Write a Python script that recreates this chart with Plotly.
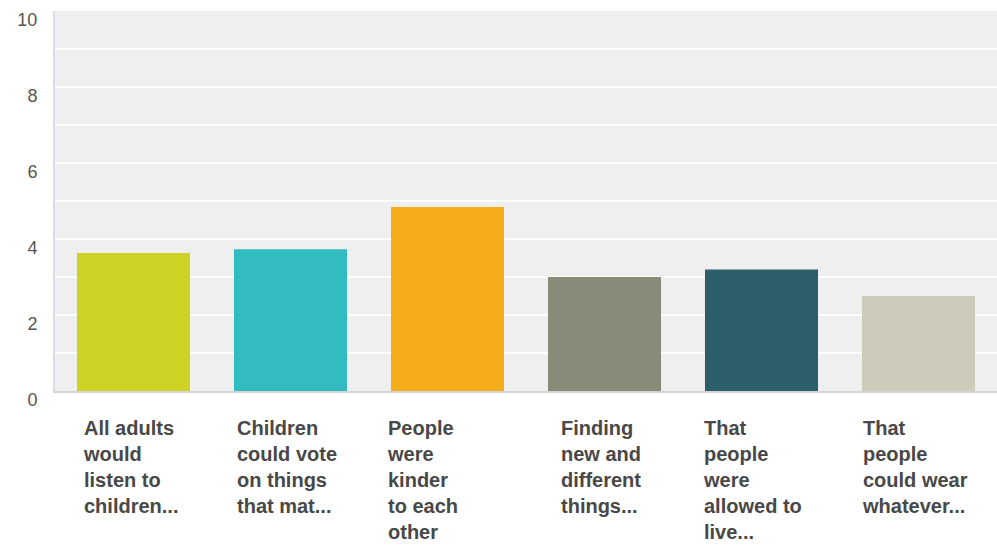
import plotly.graph_objects as go

categories = [
    "All adults<br>would<br>listen to<br>children...",
    "Children<br>could vote<br>on things<br>that mat...",
    "People<br>were<br>kinder<br>to each<br>other",
    "Finding<br>new and<br>different<br>things...",
    "That<br>people<br>were<br>allowed to<br>live...",
    "That<br>people<br>could wear<br>whatever...",
]
values = [3.63, 3.73, 4.84, 3.0, 3.2, 2.5]
colors = ["#cdd325", "#33bcc0", "#f5ad1b", "#8a8a78", "#2c5e6c", "#cfcbba"]
tick_vals = [0, 2, 4, 6, 8, 10]

# horizontal pixel offset of each label's left edge from its category centre (style)
label_shift = [-53, -56, -63, -46, -61, -59]

keys = [f"c{i}" for i in range(len(categories))]

fig = go.Figure()
fig.add_trace(go.Bar(x=keys, y=values, marker=dict(color=colors, line=dict(width=0)),
                     width=0.72, hoverinfo="skip"))

for k, lab, sh in zip(keys, categories, label_shift):
    fig.add_annotation(x=k, y=0, xref="x", yref="y", text=lab, showarrow=False,
                       xanchor="left", yanchor="top", align="left", yshift=-24, xshift=sh,
                       font=dict(family="Arial, Liberation Sans", size=20, color="#484848",
                                 weight="bold"))

fig.update_layout(
    width=997, height=547,
    margin=dict(l=55, r=0, t=11, b=156),
    paper_bgcolor="white", plot_bgcolor="#efefef",
    showlegend=False,
    bargap=0.28,
    xaxis=dict(showticklabels=False, showgrid=False, showline=True,
               linecolor="#d4d4d4", linewidth=2, ticks="", zeroline=False),
    yaxis=dict(range=[0, 10], tickvals=tick_vals, showgrid=True,
               gridcolor="white", gridwidth=2, zeroline=False,
               showline=True, linecolor="#dcdce4", linewidth=2,
               ticklabelshift=9, ticklabelstandoff=12, ticklabeloverflow="allow",
               tickfont=dict(family="Arial, Liberation Sans", size=18, color="#555555")),
)
# minor gridlines at odd values
fig.update_yaxes(minor=dict(dtick=1, showgrid=True, gridcolor="white", gridwidth=2))

fig.write_html("out.html", config={"displayModeBar": False},
               post_script="document.body.style.margin='0';")
